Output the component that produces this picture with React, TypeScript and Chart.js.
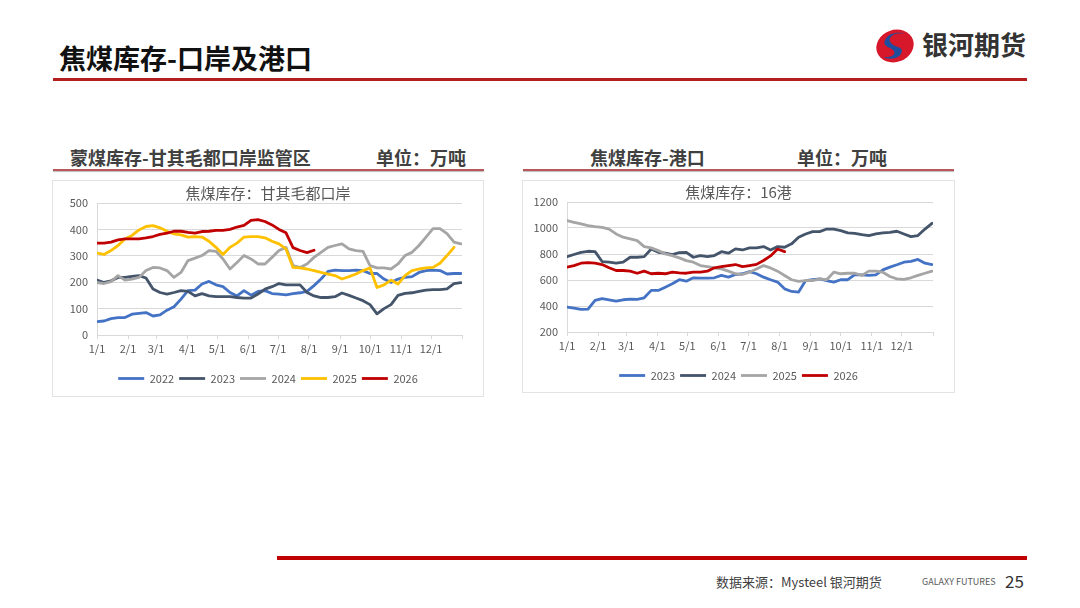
import React, { useEffect, useRef } from 'react';
import { Chart, registerables } from 'chart.js';

Chart.register(...registerables);

// ===== 数据 =====

// 月初在一年中的天数 (x 轴刻度)
const monthDays = [0, 31, 59, 90, 120, 151, 181, 212, 243, 273, 304, 334, 365];
const monthLabels = ['1/1', '2/1', '3/1', '4/1', '5/1', '6/1', '7/1', '8/1', '9/1', '10/1', '11/1', '12/1', ''];

// 甘其毛都口岸 焦煤库存 (万吨, 周度)
const gqmd2022 = [51, 53, 62, 66, 66, 79, 82, 85, 72, 76, 94, 107, 136, 168, 170, 193, 203, 190, 183, 161, 148, 168, 151, 165, 168, 157, 155, 152, 157, 160, 165, 187, 212, 241, 246, 244, 244, 246, 244, 233, 233, 212, 199, 212, 218, 221, 237, 244, 246, 244, 231, 233, 233];
const gqmd2023 = [208, 199, 205, 218, 218, 222, 225, 216, 174, 161, 155, 161, 168, 165, 148, 157, 148, 145, 145, 145, 142, 140, 140, 155, 174, 183, 195, 190, 190, 190, 161, 148, 142, 142, 145, 159, 150, 140, 130, 115, 80, 100, 115, 150, 158, 160, 165, 170, 172, 172, 175, 195, 198];
const gqmd2024 = [199, 195, 202, 225, 208, 212, 218, 244, 256, 254, 244, 218, 237, 282, 291, 301, 320, 317, 288, 250, 275, 301, 288, 269, 269, 294, 320, 332, 263, 256, 269, 294, 313, 332, 339, 345, 326, 320, 317, 263, 254, 254, 250, 269, 301, 313, 339, 371, 403, 403, 384, 352, 345];
const gqmd2025 = [310, 305, 320, 339, 364, 377, 398, 411, 414, 406, 393, 383, 379, 371, 373, 371, 355, 332, 305, 332, 348, 371, 373, 373, 368, 355, 345, 326, 256, 254, 250, 244, 237, 231, 225, 212, 221, 231, 244, 254, 180, 190, 208, 193, 225, 244, 250, 254, 256, 272, 301, 332];
const gqmd2026 = [348, 348, 352, 360, 364, 364, 364, 368, 373, 381, 386, 393, 393, 389, 386, 392, 393, 396, 396, 400, 409, 415, 434, 437, 430, 417, 400, 387, 331, 320, 312, 321];

// 16港 焦煤库存 (万吨, 周度)
const port2023 = [392, 384, 374, 376, 443, 456, 448, 438, 448, 453, 451, 463, 520, 520, 545, 571, 602, 591, 617, 614, 614, 617, 635, 622, 642, 648, 665, 648, 622, 602, 584, 532, 512, 507, 596, 602, 609, 596, 584, 602, 602, 642, 640, 635, 640, 678, 699, 717, 737, 744, 758, 729, 719];
const port2024 = [780, 796, 813, 821, 818, 742, 737, 729, 737, 775, 775, 780, 839, 813, 806, 796, 811, 813, 775, 788, 780, 788, 818, 806, 839, 831, 847, 847, 857, 831, 857, 852, 878, 929, 954, 972, 972, 992, 992, 980, 962, 959, 949, 942, 954, 962, 967, 975, 954, 934, 942, 992, 1036];
const port2025 = [1057, 1044, 1031, 1018, 1010, 1005, 992, 954, 929, 916, 903, 857, 847, 826, 801, 788, 770, 749, 737, 711, 703, 693, 685, 668, 648, 642, 660, 685, 711, 693, 668, 635, 602, 589, 596, 596, 609, 602, 660, 648, 652, 652, 635, 668, 668, 660, 627, 609, 604, 617, 635, 652, 668];
const port2026 = [699, 711, 729, 734, 729, 719, 694, 673, 673, 668, 652, 668, 648, 652, 648, 660, 655, 652, 660, 660, 668, 694, 703, 711, 719, 703, 711, 720, 750, 785, 838, 818];

const BLUE = '#4472C4';
const SLATE = '#44546A';
const GRAY = '#A5A5A5';
const GOLD = '#FFC000';
const RED = '#C00000';

const FONT = '"Noto Sans CJK SC", "Noto Sans", sans-serif';

interface Series {
  label: string;
  values: number[];
  color: string;
}

const gqmdSeries: Series[] = [
  { label: '2022', values: gqmd2022, color: BLUE },
  { label: '2023', values: gqmd2023, color: SLATE },
  { label: '2024', values: gqmd2024, color: GRAY },
  { label: '2025', values: gqmd2025, color: GOLD },
  { label: '2026', values: gqmd2026, color: RED },
];

const portSeries: Series[] = [
  { label: '2023', values: port2023, color: BLUE },
  { label: '2024', values: port2024, color: SLATE },
  { label: '2025', values: port2025, color: GRAY },
  { label: '2026', values: port2026, color: RED },
];

// ===== 折线图 =====

interface LineProps {
  title: string;
  series: Series[];
  yMin: number;
  yMax: number;
  yStep: number;
  titleTop: number;
  xAxisHeight: number;
  bottomPad: number;
}

function SeasonalChart({ title, series, yMin, yMax, yStep, titleTop, xAxisHeight, bottomPad }: LineProps) {
  const canvasRef = useRef<HTMLCanvasElement>(null);
  const chartRef = useRef<Chart | null>(null);

  useEffect(() => {
    if (!canvasRef.current) return;
    const n = series.length;

    chartRef.current = new Chart(canvasRef.current, {
      type: 'line',
      data: {
        datasets: series.map((s, i) => ({
          label: s.label,
          data: s.values.map((v, w) => ({ x: w * 7, y: v })),
          borderColor: s.color,
          backgroundColor: s.color,
          borderWidth: 2.8,
          borderJoinStyle: 'round' as const,
          borderCapStyle: 'round' as const,
          pointRadius: 0,
          tension: 0,
          order: n - i,
        })),
      },
      options: {
        animation: false,
        responsive: true,
        maintainAspectRatio: false,
        layout: { padding: { left: 0, right: 0, top: 0, bottom: bottomPad } },
        plugins: {
          title: {
            display: true,
            text: title,
            color: '#595959',
            font: { family: FONT, size: 15, weight: 'normal' },
            padding: { top: titleTop, bottom: 1 },
          },
          legend: {
            position: 'bottom',
            labels: {
              usePointStyle: true,
              pointStyle: 'line',
              pointStyleWidth: 26,
              boxHeight: 11,
              padding: 5,
              color: '#595959',
              font: { family: FONT, size: 11 },
              sort: (a, b) => (a.datasetIndex ?? 0) - (b.datasetIndex ?? 0),
            },
          },
          tooltip: { enabled: false },
        },
        scales: {
          x: {
            type: 'linear',
            min: 0,
            max: 365,
            afterBuildTicks: (scale) => {
              scale.ticks = monthDays.map(d => ({ value: d }));
            },
            afterFit: (scale) => {
              scale.height = xAxisHeight;
            },
            ticks: {
              autoSkip: false,
              maxRotation: 0,
              padding: 3,
              color: '#595959',
              font: { family: FONT, size: 11 },
              callback: (v) => {
                const idx = monthDays.indexOf(Number(v));
                return idx >= 0 ? monthLabels[idx] : '';
              },
            },
            grid: { drawOnChartArea: false, drawTicks: true, tickLength: 4, color: '#D9D9D9' },
            border: { color: '#D9D9D9' },
          },
          y: {
            min: yMin,
            max: yMax,
            afterFit: (scale) => {
              scale.width = 44;
            },
            ticks: {
              stepSize: yStep,
              padding: 9,
              color: '#595959',
              font: { family: FONT, size: 11 },
              callback: (v) => String(v),
            },
            grid: { color: '#D9D9D9', drawTicks: false },
            border: { color: '#D9D9D9' },
          },
          // 右侧留白 (不显示内容)
          spacer: {
            position: 'right',
            display: true,
            afterFit: (scale) => {
              scale.width = 21;
            },
            ticks: { display: false },
            grid: { display: false, drawTicks: false },
            border: { display: false },
          },
        },
      },
    });

    return () => {
      if (chartRef.current) {
        chartRef.current.destroy();
        chartRef.current = null;
      }
    };
  }, [title, series, yMin, yMax, yStep, titleTop, xAxisHeight, bottomPad]);

  return <canvas ref={canvasRef} />;
}

// ===== 页面 =====

function SubHeader({ left, name, nameLeft, unitLeft, width }: { left: number; name: string; nameLeft: number; unitLeft: number; width: number }) {
  return (
    <div style={{ position: 'absolute', left, top: 142, width, height: 30 }}>
      <div style={{ position: 'absolute', left: 0, top: 0, width, fontSize: 18, fontWeight: 'bold', color: '#404040', lineHeight: '30px' }}>
        <span style={{ position: 'absolute', left: nameLeft, whiteSpace: 'nowrap' }}>{name}</span>
        <span style={{ position: 'absolute', left: unitLeft, whiteSpace: 'nowrap' }}>单位：万吨</span>
      </div>
      <div style={{ position: 'absolute', left: 0, top: 27, width, height: 2, background: '#B8585A', boxShadow: '0 1px 1px #bbb' }} />
    </div>
  );
}

export default function App() {
  return (
    <div style={{ position: 'fixed', left: 0, top: 0, width: 1080, height: 608, background: '#fff', fontFamily: FONT, overflow: 'hidden' }}>
      {/* 标题 */}
      <div style={{ position: 'absolute', left: 59, top: 40, fontSize: 27, fontWeight: 'bold', color: '#111', lineHeight: '36px', whiteSpace: 'nowrap' }}>
        焦煤库存-口岸及港口
      </div>
      <div style={{ position: 'absolute', left: 53, top: 78, width: 974, height: 3, background: '#B41E1E' }} />

      {/* 标志 */}
      <svg style={{ position: 'absolute', left: 874, top: 28 }} width={42} height={36} viewBox="0 0 42 36">
        <ellipse cx={21} cy={18} rx={19} ry={16} fill="#D7182A" transform="rotate(-20 21 18)" />
        <path d="M31 6 C22 3 12 9 17 15 C21 20 31 18 27 26 C24 31 15 32 9 29 C16 30 22 27 20 23 C17 19 8 19 11 12 C14 5 25 3 31 6 Z" fill="#1F4E9E" />
      </svg>
      <div style={{ position: 'absolute', left: 922, top: 28, fontSize: 26, fontWeight: 'bold', color: '#333', lineHeight: '32px', whiteSpace: 'nowrap' }}>
        银河期货
      </div>

      {/* 分标题 */}
      <SubHeader left={53} width={431} name="蒙煤库存-甘其毛都口岸监管区" nameLeft={17} unitLeft={323} />
      <SubHeader left={523} width={431} name="焦煤库存-港口" nameLeft={67} unitLeft={274} />

      {/* 图表 */}
      <div style={{ position: 'absolute', left: 52, top: 180, width: 432, height: 217, border: '1px solid #E3E3E3', boxSizing: 'border-box' }}>
        <div style={{ position: 'absolute', inset: 0 }}>
          <SeasonalChart title="焦煤库存：甘其毛都口岸" series={gqmdSeries} yMin={0} yMax={500} yStep={100} titleTop={3} xAxisHeight={33} bottomPad={2} />
        </div>
      </div>
      <div style={{ position: 'absolute', left: 522, top: 180, width: 433, height: 213, border: '1px solid #E3E3E3', boxSizing: 'border-box' }}>
        <div style={{ position: 'absolute', inset: 0 }}>
          <SeasonalChart title="焦煤库存：16港" series={portSeries} yMin={200} yMax={1200} yStep={200} titleTop={2} xAxisHeight={33} bottomPad={1} />
        </div>
      </div>

      {/* 页脚 */}
      <div style={{ position: 'absolute', left: 277, top: 556, width: 750, height: 4, background: '#C00000' }} />
      <div style={{ position: 'absolute', left: 716, top: 573, fontSize: 13, color: '#404040', lineHeight: '18px', whiteSpace: 'nowrap' }}>
        数据来源：Mysteel 银河期货
      </div>
      <div style={{ position: 'absolute', left: 922, top: 576, fontSize: 9, color: '#595959', lineHeight: '12px', whiteSpace: 'nowrap' }}>
        GALAXY FUTURES
      </div>
      <div style={{ position: 'absolute', left: 1005, top: 570, fontSize: 17, color: '#333', lineHeight: '22px' }}>
        25
      </div>
    </div>
  );
}
